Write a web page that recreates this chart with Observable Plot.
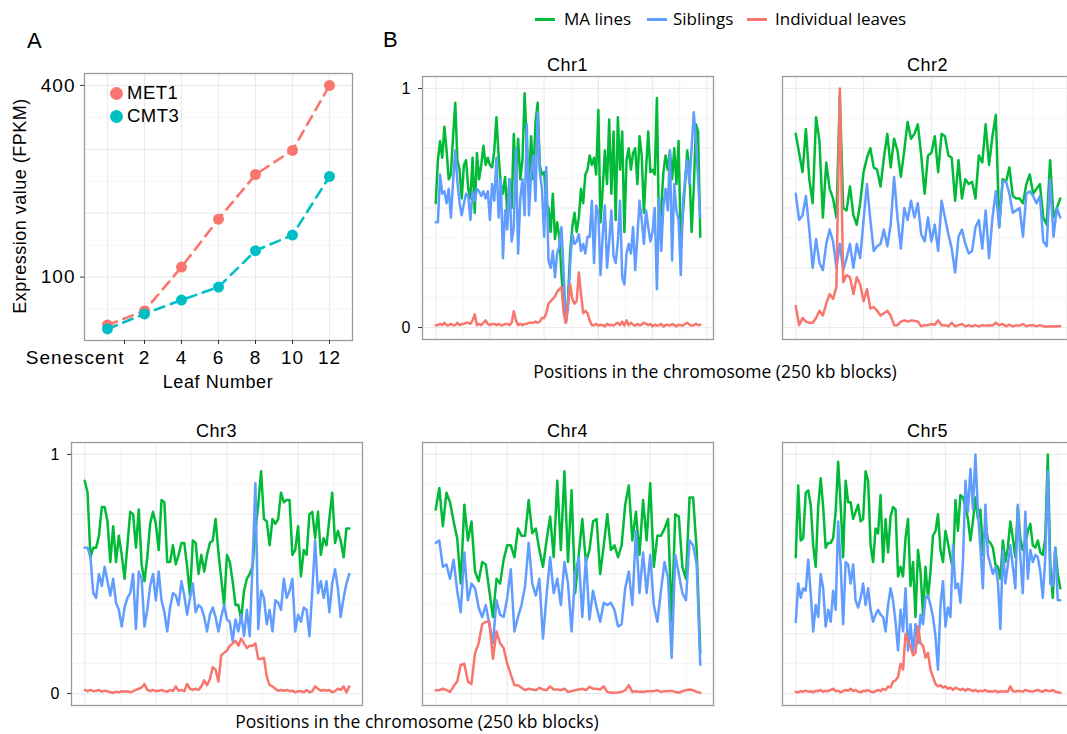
<!DOCTYPE html>
<html><head><meta charset="utf-8">
<script src="https://cdn.jsdelivr.net/npm/d3@7"></script>
<script src="https://cdn.jsdelivr.net/npm/@observablehq/plot@0.6"></script>
<style>
body{margin:0;background:#fff;}
#page{position:relative;width:1067px;height:734px;overflow:hidden;background:#fff;font-family:"Liberation Sans",Arial,sans-serif;color:#000;}
.abs{position:absolute;white-space:nowrap;line-height:1;}
.panel{position:absolute;}
.panel svg{max-width:none !important;}
</style></head><body><div id="page"></div>
<script>
// ---------- Panel A data ----------
const leafLabels = ["Senescent","2","4","6","8","10","12"];
const met1Fpkm = [70.7, 78.3, 107.5, 152, 210, 250, 400];
const cmt3Fpkm = [68.7, 76.6, 84.7, 93, 121, 135.5, 207];
const genes = ["MET1","CMT3"];
const geneColors = ["#F8766D","#00BFC4"];
const fpkmTicks = [100, 400];
const fpkmGridMajor = [100, 158.7, 252, 400];
const fpkmGridMinor = [79.4, 126, 200, 317.5];

// ---------- Panel B data ----------
const seriesNames = ["MA lines","Siblings","Individual leaves"];
const seriesColors = ["#00BA38","#619CFF","#F8766D"];
const chrNames = ["Chr1","Chr2","Chr3","Chr4","Chr5"];
const chrBreakStep = [25, 20, 25, 20, 30];
const yTicks = [0, 1];
const yGridMajor = [0, 0.25, 0.5, 0.75, 1];
const yGridMinor = [0.125, 0.375, 0.625, 0.875];

const chr1MA = [0.52,0.70,0.78,0.71,0.84,0.74,0.62,0.64,0.80,0.94,
0.70,0.66,0.54,0.68,0.70,0.58,0.54,0.71,0.48,0.73,
0.62,0.68,0.76,0.68,0.71,0.68,0.67,0.74,0.88,0.72,
0.60,0.56,0.63,0.48,0.62,0.50,0.81,0.62,0.79,0.62,
0.70,0.98,0.76,0.60,0.80,0.62,0.86,0.94,0.68,0.64,
0.65,0.52,0.50,0.40,0.56,0.37,0.44,0.38,0.22,0.10,
0.02,0.12,0.32,0.42,0.48,0.40,0.46,0.58,0.52,0.64,
0.66,0.72,0.68,0.71,0.64,0.91,0.44,0.58,0.74,0.60,
0.87,0.56,0.82,0.45,0.88,0.66,0.82,0.40,0.70,0.75,
0.66,0.73,0.75,0.60,0.80,0.72,0.48,0.66,0.82,0.65,
0.66,0.64,0.96,0.38,0.50,0.65,0.72,0.66,0.74,0.62,
0.75,0.60,0.78,0.35,0.48,0.60,0.74,0.66,0.40,0.58,
0.85,0.82,0.38];
const chr1Sib = [0.44,0.44,0.64,0.56,0.57,0.52,0.58,0.46,0.61,0.74,
0.61,0.52,0.47,0.52,0.56,0.55,0.45,0.57,0.53,0.58,
0.57,0.55,0.57,0.54,0.57,0.45,0.60,0.53,0.71,0.46,
0.62,0.29,0.49,0.41,0.62,0.36,0.42,0.75,0.31,0.54,
0.62,0.47,0.85,0.47,0.65,0.72,0.53,0.90,0.65,0.58,
0.38,0.67,0.28,0.25,0.32,0.21,0.31,0.34,0.42,0.23,
0.02,0.08,0.27,0.39,0.35,0.36,0.39,0.32,0.35,0.31,
0.38,0.38,0.53,0.27,0.51,0.48,0.22,0.38,0.51,0.25,
0.36,0.49,0.30,0.27,0.36,0.53,0.21,0.18,0.31,0.35,
0.31,0.42,0.24,0.38,0.53,0.45,0.35,0.49,0.42,0.36,
0.40,0.50,0.16,0.54,0.32,0.51,0.58,0.49,0.74,0.28,
0.60,0.49,0.45,0.22,0.52,0.62,0.70,0.60,0.75,0.90,
0.78,0.62,0.46];
const chr1Ind = [0.01,0.01,0.015,0.01,0.02,0.01,0.01,0.015,0.01,0.01,
0.02,0.01,0.015,0.015,0.02,0.02,0.015,0.03,0.055,0.01,
0.015,0.01,0.02,0.03,0.015,0.01,0.015,0.015,0.01,0.015,
0.01,0.01,0.015,0.015,0.01,0.02,0.068,0.03,0.01,0.015,
0.01,0.015,0.015,0.02,0.02,0.02,0.025,0.02,0.025,
0.04,0.04,0.06,0.10,0.11,0.12,0.13,0.15,0.16,0.17,
0.06,0.02,0.10,0.18,0.12,0.10,0.11,0.23,0.14,0.06,
0.07,0.06,0.03,0.01,
0.01,0.015,0.008,0.012,0.01,0.005,0.015,0.01,0.012,0.008,
0.015,0.02,0.01,0.025,0.008,0.03,0.01,0.02,0.012,0.008,
0.015,0.01,0.012,0.02,0.015,0.01,0.015,0.005,0.012,0.008,
0.01,0.015,0.005,0.01,0.012,0.008,0.015,0.01,0.005,0.012,
0.01,0.008,0.015,0.02,0.012,0.008,0.01,0.015,0.01,0.012];

const chr2MA = [0.81,0.73,0.65,0.83,0.62,0.52,0.88,0.78,0.46,0.69,
0.58,0.54,0.46,0.97,0.50,0.49,0.59,0.47,0.43,0.52,
0.65,0.71,0.75,0.67,0.66,0.59,0.71,0.81,0.67,0.79,
0.74,0.63,0.74,0.86,0.79,0.81,0.85,0.72,0.56,0.72,
0.73,0.80,0.65,0.81,0.80,0.72,0.71,0.53,0.70,0.54,
0.62,0.60,0.61,0.54,0.72,0.69,0.85,0.68,0.80,0.89,
0.42,0.62,0.61,0.67,0.55,0.54,0.54,0.52,0.60,0.64,
0.56,0.58,0.60,0.46,0.43,0.70,0.46,0.50,0.54];
const chr2Sib = [0.56,0.45,0.47,0.55,0.41,0.25,0.37,0.27,0.24,0.35,
0.41,0.36,0.25,0.35,0.24,0.29,0.35,0.25,0.35,0.29,
0.45,0.60,0.45,0.32,0.34,0.35,0.41,0.34,0.43,0.63,
0.46,0.33,0.50,0.45,0.53,0.46,0.52,0.39,0.36,0.46,
0.36,0.43,0.32,0.53,0.46,0.39,0.33,0.23,0.38,0.41,
0.35,0.31,0.32,0.42,0.45,0.33,0.49,0.29,0.46,0.57,
0.42,0.61,0.61,0.56,0.48,0.49,0.50,0.38,0.56,0.57,
0.55,0.52,0.55,0.36,0.34,0.62,0.38,0.50,0.46];
const chr2Ind = [0.09,0.01,0.04,0.025,0.02,0.02,0.04,0.07,0.05,0.10,
0.14,0.12,0.17,1.0,0.19,0.22,0.21,0.14,0.21,0.18,
0.11,0.16,0.08,0.085,0.07,0.05,0.06,0.07,0.05,0.01,
0.01,0.025,0.03,0.025,0.03,0.028,0.025,0.005,0.01,0.01,
0.015,0.012,0.03,0.01,0.01,0.005,0.02,0.005,0.01,0.015,
0.005,0.01,0.005,0.01,0.005,0.01,0.008,0.01,0.008,0.02,
0.01,0.015,0.005,0.012,0.005,0.01,0.008,0.015,0.005,0.01,
0.01,0.005,0.01,0.005,0.003,0.005,0.004,0.005,0.005];

const chr3MA = [0.89,0.84,0.57,0.61,0.61,0.66,0.78,0.78,0.72,0.55,
0.70,0.55,0.66,0.58,0.48,0.62,0.76,0.75,0.61,0.77,
0.54,0.47,0.57,0.71,0.76,0.71,0.60,0.81,0.80,0.55,
0.55,0.62,0.54,0.58,0.63,0.63,0.53,0.41,0.64,0.63,
0.50,0.58,0.51,0.58,0.63,0.64,0.73,0.59,0.48,0.37,
0.58,0.55,0.47,0.37,0.37,0.31,0.43,0.48,0.50,0.53,
0.68,0.79,0.93,0.73,0.72,0.62,0.73,0.71,0.73,0.84,
0.80,0.81,0.81,0.58,0.60,0.70,0.49,0.60,0.58,0.75,
0.76,0.65,0.76,0.58,0.65,0.62,0.73,0.84,0.63,0.68,
0.64,0.57,0.69,0.69];
const chr3Sib = [0.61,0.61,0.57,0.42,0.40,0.50,0.45,0.53,0.47,0.41,
0.48,0.38,0.35,0.28,0.36,0.40,0.42,0.50,0.27,0.51,
0.48,0.28,0.35,0.45,0.50,0.39,0.51,0.39,0.34,
0.26,0.36,0.42,0.41,0.37,0.47,0.41,0.33,0.40,0.46,
0.34,0.37,0.36,0.32,0.26,0.33,0.36,0.32,0.26,0.32,
0.37,0.31,0.30,0.22,0.31,0.26,0.33,0.24,0.35,0.24,
0.54,0.88,0.27,0.43,0.40,0.29,0.35,0.26,0.39,0.38,
0.35,0.48,0.40,0.43,0.48,0.26,0.33,0.30,0.36,0.35,
0.24,0.43,0.64,0.42,0.47,0.40,0.47,0.34,0.46,0.52,
0.44,0.32,0.40,0.46,0.50];
const chr3Ind = [0.015,0.01,0.015,0.01,0.012,0.015,0.008,0.012,0.01,0.005,
0.003,0.008,0.005,0.01,0.008,0.01,0.005,0.01,0.015,0.02,0.025,
0.04,0.015,0.01,0.015,0.01,0.012,0.015,0.01,0.008,0.015,
0.01,0.03,0.012,0.015,0.01,0.04,0.02,0.015,0.02,0.015,
0.03,0.055,0.035,0.06,0.11,0.10,0.05,0.16,0.17,0.18,
0.20,0.21,0.22,0.20,0.23,0.21,0.19,0.20,0.20,0.21,
0.145,0.145,0.15,0.07,0.035,0.03,0.02,0.012,0.015,0.012,
0.015,0.01,0.012,0.005,0.01,0.01,0.005,0.015,0.005,0.01,
0.03,0.02,0.012,0.015,0.012,0.015,0.005,0.01,0.02,0.015,
0.03,0.005,0.03];

const chr4MA = [0.77,0.86,0.70,0.84,0.80,0.72,0.65,0.46,0.79,0.64,
0.72,0.51,0.47,0.55,0.54,0.43,0.32,0.48,0.46,0.56,
0.62,0.62,0.57,0.69,0.66,0.66,0.81,0.67,0.69,0.60,
0.53,0.64,0.74,0.57,0.89,0.60,0.93,0.55,0.85,0.42,
0.58,0.73,0.55,0.60,0.72,0.73,0.50,0.62,0.75,0.60,
0.62,0.57,0.62,0.79,0.87,0.64,0.76,0.58,0.81,0.64,
0.88,0.53,0.66,0.66,0.69,0.73,0.30,0.75,0.74,0.53,
0.48,0.82,0.82,0.60,0.17];
const chr4Sib = [0.63,0.64,0.53,0.54,0.48,0.56,0.43,0.34,0.59,0.39,
0.46,0.44,0.36,0.32,0.37,0.29,0.21,0.39,0.33,0.32,
0.40,0.52,0.26,0.32,0.37,0.45,0.63,0.46,0.41,0.48,
0.23,0.41,0.57,0.42,0.48,0.37,0.55,0.46,0.26,0.50,
0.57,0.32,0.57,0.31,0.43,0.36,0.30,0.38,0.37,0.38,
0.35,0.28,0.29,0.44,0.51,0.37,0.68,0.42,0.59,0.42,
0.58,0.37,0.30,0.43,0.55,0.48,0.15,0.58,0.50,0.42,
0.39,0.64,0.62,0.54,0.12];
const chr4Ind = [0.014,0.014,0.02,0.014,0.007,0.03,0.05,0.12,0.125,0.05,
0.04,0.17,0.21,0.29,0.30,0.30,0.145,0.26,0.21,0.19,
0.125,0.08,0.035,0.035,0.024,0.014,0.02,0.017,0.014,0.024,
0.017,0.014,0.03,0.017,0.017,0.014,0.02,0.007,0.01,0.014,
0.017,0.02,0.014,0.028,0.02,0.02,0.017,0.03,0.007,0.003,
0.003,0.004,0.007,0.014,0.035,0.007,0.01,0.007,0.007,0.01,
0.01,0.011,0.014,0.007,0.01,0.011,0.011,0.007,0.003,0.01,
0.014,0.017,0.014,0.007,0.003];

const chr5MA = [0.57,0.87,0.64,0.65,0.84,0.85,0.79,0.62,0.53,0.78,
0.90,0.78,0.61,0.63,0.63,0.65,0.76,0.97,0.79,0.57,
0.89,0.80,0.80,0.73,0.76,0.79,0.72,0.73,0.93,0.89,
0.62,0.55,0.69,0.67,0.83,0.55,0.73,0.59,0.74,0.78,
0.77,0.49,0.53,0.49,0.65,0.73,0.45,0.55,0.32,0.60,
0.51,0.33,0.53,0.40,0.51,0.66,0.68,0.75,0.60,0.55,
0.68,0.63,0.57,0.52,0.81,0.68,0.83,0.82,0.78,0.73,
0.64,0.72,0.82,0.73,0.77,0.58,0.72,0.64,0.63,0.61,
0.54,0.53,0.48,0.64,0.55,0.61,0.72,0.65,0.57,0.78,
0.65,0.60,0.62,0.68,0.71,0.62,0.61,0.64,0.59,0.58,
0.65,1.0,0.54,0.40,0.61,0.50,0.44];
const chr5Sib = [0.30,0.46,0.40,0.44,0.43,0.56,0.42,0.26,0.37,0.32,
0.50,0.44,0.28,0.35,0.30,0.43,0.35,0.72,0.54,0.29,
0.55,0.54,0.46,0.54,0.39,0.36,0.40,0.46,0.37,0.44,
0.35,0.30,0.33,0.35,0.33,0.32,0.26,0.37,0.44,0.39,
0.30,0.18,0.35,0.26,0.44,0.18,0.29,0.17,0.29,0.21,
0.33,0.29,0.40,0.41,0.37,0.32,0.24,0.10,0.37,0.47,
0.28,0.36,0.32,0.62,0.44,0.46,0.38,0.55,0.89,0.76,
0.94,0.77,1.0,0.76,0.61,0.44,0.79,0.58,0.54,0.50,
0.53,0.47,0.27,0.60,0.46,0.54,0.62,0.53,0.44,0.79,
0.57,0.42,0.76,0.48,0.60,0.55,0.58,0.57,0.51,0.40,
0.57,0.93,0.46,0.45,0.61,0.39,0.39];
const chr5Ind = [0.007,0.005,0.01,0.008,0.012,0.008,0.01,0.005,0.012,0.01,
0.015,0.008,0.012,0.01,0.015,0.02,0.01,0.012,0.005,0.01,
0.015,0.012,0.02,0.01,0.015,0.008,0.005,0.012,0.01,0.015,
0.008,0.005,0.01,0.015,0.01,0.02,0.015,
0.03,0.025,0.05,0.055,0.07,0.125,0.10,0.25,0.22,0.20,
0.16,0.17,0.28,0.21,0.20,0.15,0.17,0.10,0.07,0.04,
0.03,0.035,0.025,0.03,0.02,0.025,0.015,0.025,0.02,0.015,
0.02,0.012,0.02,0.015,0.01,0.015,0.008,0.012,0.01,0.015,
0.008,0.01,0.008,0.012,0.005,0.01,0.008,0.01,0.008,0.03,
0.01,0.008,0.012,0.01,0.008,0.015,0.012,0.01,0.008,0.012,
0.015,0.01,0.008,0.015,0.012,0.01,0.015,0.008,0.005,0.003];

const chrMA = [chr1MA, chr2MA, chr3MA, chr4MA, chr5MA];
const chrSib = [chr1Sib, chr2Sib, chr3Sib, chr4Sib, chr5Sib];
const chrInd = [chr1Ind, chr2Ind, chr3Ind, chr4Ind, chr5Ind];

// ---------- layout ----------
const page = document.getElementById("page");
const GRID = "#ebebeb", GRID2 = "#f3f3f3", BORDER = "#9a9a9a";
const chartFont = '"Liberation Sans", Arial, sans-serif';
const humanFont = '"Open Sans", "Noto Sans", sans-serif';

function place(svg, left, top) {
  const d = document.createElement("div");
  d.className = "panel";
  d.style.left = left + "px"; d.style.top = top + "px";
  svg.style.maxWidth = "none";
  d.style.width = svg.getAttribute("width") + "px";
  d.appendChild(svg);
  page.appendChild(d);
}
function label(text, x, y, opts = {}) {
  const d = document.createElement("div");
  d.className = "abs";
  d.textContent = text;
  d.style.left = x + "px"; d.style.top = y + "px";
  d.style.fontSize = (opts.size || 18) + "px";
  d.style.fontFamily = opts.font || chartFont;
  if (opts.ls) d.style.letterSpacing = opts.ls;
  const ax = opts.anchor === "start" ? "0" : "-50%";
  d.style.transform = `translate(${ax},-50%)`;
  page.appendChild(d);
  return d;
}

// ---------- Panel A ----------
const frameA = {x: 84, y: 73, w: 268, h: 267};
const mA = {l: 84, r: 18, t: 13, b: 40};
const rowsA = genes.flatMap((g, k) => leafLabels.map((l, i) => ({gene: g, leaf: l, fpkm: [met1Fpkm, cmt3Fpkm][k][i]})));
const axisStyleA = {tickSize: 4, tickPadding: 6, fontSize: 19, stroke: "#333"};
const plotA = Plot.plot({
  width: frameA.w + mA.l + mA.r, height: frameA.h + mA.t + mA.b,
  marginLeft: mA.l, marginRight: mA.r, marginTop: mA.t, marginBottom: mA.b,
  style: {fontFamily: chartFont, background: "transparent", overflow: "visible", letterSpacing: "1px"},
  x: {type: "point", domain: leafLabels, padding: 0.6, axis: null, label: null},
  y: {type: "log", domain: [63.2, 436], axis: null, label: null},
  color: {domain: genes, range: geneColors},
  marks: [
    Plot.gridY(fpkmGridMinor, {stroke: GRID2, strokeOpacity: 1, strokeWidth: 0.8}),
    Plot.gridY(fpkmGridMajor, {stroke: GRID, strokeOpacity: 1, strokeWidth: 1.2}),
    Plot.gridX(leafLabels, {stroke: GRID, strokeOpacity: 1, strokeWidth: 1.2}),
    Plot.line(rowsA, {x: "leaf", y: "fpkm", z: "gene", stroke: "gene", strokeWidth: 2.6, strokeDasharray: "10,7"}),
    Plot.dot(rowsA, {x: "leaf", y: "fpkm", fill: "gene", r: 5.5}),
    Plot.frame({stroke: BORDER, strokeWidth: 1.3}),
    Plot.axisY(fpkmTicks, {...axisStyleA, tickPadding: 5, tickFormat: d => String(d)}),
    Plot.axisX(leafLabels.slice(0, 1), {...axisStyleA, textAnchor: "end", dx: 17}),
    Plot.axisX(leafLabels.slice(1), axisStyleA)
  ]
});
place(plotA, frameA.x - mA.l, frameA.y - mA.t);

// Panel A legend (HTML)
genes.forEach((g, k) => {
  const cy = 93 + k * 23;
  const c = document.createElement("div");
  c.className = "abs";
  Object.assign(c.style, {left: "110px", top: (cy - 6.5) + "px", width: "13px", height: "13px", borderRadius: "50%", background: geneColors[k]});
  page.appendChild(c);
  label(g, 127, cy, {size: 18.5, anchor: "start", ls: "0.5px"});
});
label("Leaf Number", frameA.x + frameA.w / 2, 382, {size: 18, ls: "0.6px"});
const yl = label("Expression value (FPKM)", 20, 206, {size: 18, ls: "0.5px"});
yl.style.transform = "translate(-50%,-50%) rotate(-90deg)";
yl.style.transformOrigin = "50% 50%";
label("A", 27, 41, {size: 22, anchor: "start"});
label("B", 383, 40, {size: 22, anchor: "start"});

// ---------- Panel B ----------
const chrFrames = [
  {x: 422, y: 76, w: 291, h: 263, showY: true},
  {x: 782, y: 76, w: 291, h: 263, showY: false},
  {x: 71, y: 442, w: 291, h: 263, showY: true},
  {x: 422, y: 442, w: 291, h: 263, showY: false},
  {x: 782, y: 442, w: 291, h: 263, showY: false}
];
const mB = {l: 40, r: 2, t: 2, b: 2};
chrNames.forEach((name, k) => {
  const f = chrFrames[k];
  const series = [chrMA[k], chrSib[k], chrInd[k]];
  const rows = series.flatMap((arr, s) => arr.map((v, i) => ({series: seriesNames[s], block: i, value: v})));
  const n = Math.max(...series.map(a => a.length)) - 1;
  const step = chrBreakStep[k];
  const major = d3.range(0, n * 1.05 + 1e-9, step);
  const minor = d3.range(step / 2, n * 1.05, step);
  const marks = [
    Plot.gridX(minor, {stroke: GRID2, strokeOpacity: 1, strokeWidth: 0.8}),
    Plot.gridX(major, {stroke: GRID, strokeOpacity: 1, strokeWidth: 1.2}),
    Plot.gridY(yGridMinor, {stroke: GRID2, strokeOpacity: 1, strokeWidth: 0.8}),
    Plot.gridY(yGridMajor, {stroke: GRID, strokeOpacity: 1, strokeWidth: 1.2}),
    Plot.line(rows, {x: "block", y: "value", z: "series", stroke: "series", strokeWidth: 2.5, strokeLinejoin: "round"}),
    Plot.frame({stroke: BORDER, strokeWidth: 1.3})
  ];
  if (f.showY) marks.push(Plot.axisY(yTicks, {tickSize: 4, tickPadding: 8, fontSize: 16, stroke: "#333", tickFormat: d => String(d)}));
  const p = Plot.plot({
    width: f.w + mB.l + mB.r, height: f.h + mB.t + mB.b,
    marginLeft: mB.l, marginRight: mB.r, marginTop: mB.t, marginBottom: mB.b,
    style: {fontFamily: chartFont, background: "transparent", overflow: "visible"},
    x: {domain: [-0.05 * n, 1.05 * n], axis: null, label: null},
    y: {domain: [-0.05, 1.05], axis: null, label: null},
    color: {domain: seriesNames, range: seriesColors},
    marks
  });
  place(p, f.x - mB.l, f.y - mB.t);
  label(name, f.x + f.w / 2, f.y - 11, {size: 18, ls: "0.5px"});
});

// axis titles for panel B
label("Positions in the chromosome (250 kb blocks)", 715, 372, {size: 17.5, font: humanFont});
label("Positions in the chromosome (250 kb blocks)", 417, 722, {size: 17.5, font: humanFont});

// top legend
const legendItems = [{x: 535, tx: 564}, {x: 647, tx: 673}, {x: 747, tx: 775}];
seriesNames.forEach((s, k) => {
  const sw = document.createElement("div");
  sw.className = "abs";
  Object.assign(sw.style, {left: legendItems[k].x + "px", top: "17.5px", width: "20px", height: "3px", background: seriesColors[k]});
  page.appendChild(sw);
  label(s, legendItems[k].tx, 18, {size: 17, font: humanFont, anchor: "start"});
});
</script>
</body></html>
